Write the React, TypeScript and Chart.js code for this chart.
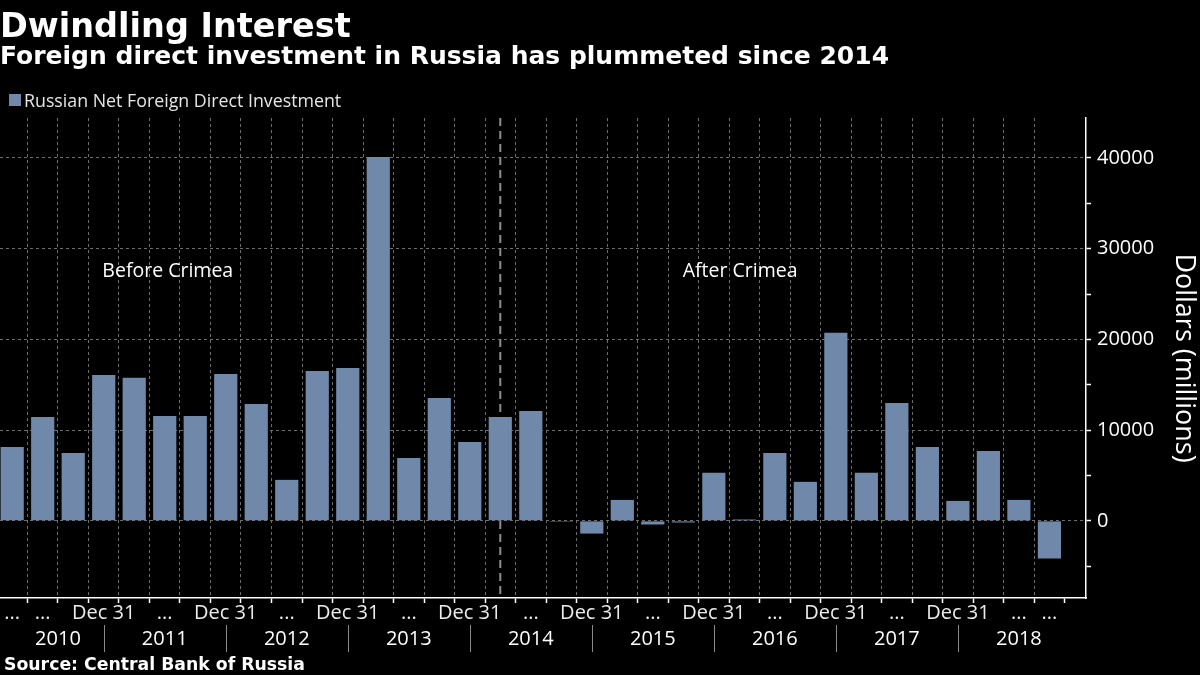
import React, { useEffect, useRef } from 'react';
import { Chart, registerables } from 'chart.js';

Chart.register(...registerables);

// Quarter-end dates (the last one has no data yet, but sits on the axis)
const quarters = [
  '2010-03-31', '2010-06-30', '2010-09-30', '2010-12-31',
  '2011-03-31', '2011-06-30', '2011-09-30', '2011-12-31',
  '2012-03-31', '2012-06-30', '2012-09-30', '2012-12-31',
  '2013-03-31', '2013-06-30', '2013-09-30', '2013-12-31',
  '2014-03-31', '2014-06-30', '2014-09-30', '2014-12-31',
  '2015-03-31', '2015-06-30', '2015-09-30', '2015-12-31',
  '2016-03-31', '2016-06-30', '2016-09-30', '2016-12-31',
  '2017-03-31', '2017-06-30', '2017-09-30', '2017-12-31',
  '2018-03-31', '2018-06-30', '2018-09-30', '2018-12-31',
];

// Russian Net Foreign Direct Investment, USD millions
const fdi = [
  8150, 11460, 7490, 16090,
  15760, 11570, 11570, 16200,
  12890, 4520, 16530, 16860,
  40110, 6940, 13550, 8700,
  11460, 12120, -100, -1400,
  2310, -400, -180, 5290,
  150, 7490, 4300, 20720,
  5290, 13000, 8150, 2200,
  7710, 2310, -4150,
];

const tickLabels = [
  '...', '...', '', 'Dec 31', '', '...', '', 'Dec 31',
  '', '...', '', 'Dec 31', '', '...', '', 'Dec 31',
  '', '...', '', 'Dec 31', '', '...', '', 'Dec 31',
  '', '...', '', 'Dec 31', '', '...', '', 'Dec 31',
  '', '...', '...', '',
];

const yearLabels = ['2010', '2011', '2012', '2013', '2014', '2015', '2016', '2017', '2018'];

const yTicks = [-5000, 0, 5000, 10000, 15000, 20000, 25000, 30000, 35000, 40000];
const yMajorStep = 10000;

const crimeaQuarter = '2014-03-31';

const annotations = [
  { text: 'Before Crimea', x: 5.1, y: 27500 },
  { text: 'After Crimea', x: 23.86, y: 27500 },
];

const FONT = "'Open Sans', 'DejaVu Sans', sans-serif";
const BOLD_FONT = "'DejaVu Sans', 'Open Sans', sans-serif";
const BAR_COLOR = '#7089ab';
const GRID_COLOR = '#6e6e6e';

const overlayPlugin = {
  id: 'overlay',
  beforeDatasetsDraw(chart: any) {
    const { ctx, chartArea, scales } = chart;
    const x = scales.x;
    const px = x.getPixelForValue(quarters.indexOf(crimeaQuarter));
    ctx.save();
    ctx.strokeStyle = '#8e8e8e';
    ctx.lineWidth = 2;
    ctx.setLineDash([8, 5]);
    ctx.beginPath();
    ctx.moveTo(px, chartArea.top);
    ctx.lineTo(px, chartArea.bottom);
    ctx.stroke();
    ctx.restore();
  },
  afterDatasetsDraw(chart: any) {
    const { ctx, scales } = chart;
    ctx.save();
    ctx.fillStyle = '#ffffff';
    ctx.font = `19.5px ${FONT}`;
    ctx.textAlign = 'center';
    ctx.textBaseline = 'middle';
    annotations.forEach((a) => {
      ctx.fillText(a.text, scales.x.getPixelForValue(a.x), scales.y.getPixelForValue(a.y));
    });
    ctx.restore();
  },
  afterDraw(chart: any) {
    const { ctx, scales } = chart;
    const x = scales.x;
    const boundaries: number[] = [0];
    quarters.forEach((q, i) => {
      if (q.endsWith('12-31') && i !== quarters.length - 1) boundaries.push(i);
    });
    boundaries.push(quarters.length - 1);
    ctx.save();
    ctx.strokeStyle = '#8a8a8a';
    ctx.lineWidth = 1;
    for (let b = 1; b < boundaries.length - 1; b++) {
      const px = Math.round(x.getPixelForValue(boundaries[b])) + 0.5;
      ctx.beginPath();
      ctx.moveTo(px, 625);
      ctx.lineTo(px, 652);
      ctx.stroke();
    }
    ctx.fillStyle = '#ffffff';
    ctx.font = `20px ${FONT}`;
    ctx.textAlign = 'center';
    ctx.textBaseline = 'alphabetic';
    yearLabels.forEach((label, k) => {
      const a = x.getPixelForValue(boundaries[k]);
      const c = x.getPixelForValue(boundaries[k + 1]);
      ctx.fillText(label, (a + c) / 2, 645);
    });
    ctx.restore();
  },
};

function FdiChart() {
  const canvasRef = useRef<HTMLCanvasElement | null>(null);

  useEffect(() => {
    const canvas = canvasRef.current;
    if (!canvas) return;
    const chart = new Chart(canvas, {
      type: 'bar',
      data: {
        datasets: [
          {
            label: 'Russian Net Foreign Direct Investment',
            data: fdi.map((v, i) => ({ x: i, y: v })),
            backgroundColor: BAR_COLOR,
            borderWidth: 0,
            categoryPercentage: 1,
            barPercentage: 0.76,
          } as any,
        ],
      },
      options: {
        animation: false,
        responsive: false,
        devicePixelRatio: 1,
        layout: { padding: { top: 118, left: 0, right: 0, bottom: 0 } },
        plugins: {
          legend: { display: false },
          tooltip: { enabled: false },
        },
        scales: {
          x: {
            type: 'linear',
            min: -0.4,
            max: 35.2,
            offset: false,
            afterBuildTicks: (s: any) => {
              s.ticks = quarters.map((_, i) => ({ value: i }));
            },
            afterFit: (s: any) => {
              s.height = 77;
            },
            grid: {
              color: (c: any) => (c.index === quarters.length - 1 ? 'rgba(0,0,0,0)' : GRID_COLOR),
              lineWidth: 1,
              tickColor: '#ffffff',
              tickLength: 5,
              tickWidth: 1.5,
            },
            border: { display: true, color: '#ffffff', width: 1.5, dash: [3, 3] },
            ticks: {
              autoSkip: false,
              maxRotation: 0,
              minRotation: 0,
              padding: 0,
              color: '#ececec',
              font: { family: FONT, size: 20, lineHeight: 1 },
              callback: (_v: any, i: number) => tickLabels[i] ?? '',
            },
          },
          y: {
            position: 'right',
            min: -8500,
            max: 44400,
            afterBuildTicks: (s: any) => {
              s.ticks = yTicks.map((v) => ({ value: v }));
            },
            afterFit: (s: any) => {
              s.width = 114;
            },
            grid: {
              color: (c: any) =>
                c.tick && c.tick.value % yMajorStep === 0 ? GRID_COLOR : 'rgba(0,0,0,0)',
              lineWidth: 1,
              tickColor: '#ffffff',
              tickLength: 5,
              tickWidth: 1.5,
            },
            border: { display: true, color: '#ffffff', width: 1.5, dash: [3, 3] },
            ticks: {
              padding: 6,
              color: '#ffffff',
              font: { family: FONT, size: 20 },
              callback: (v: any) => (Number(v) % yMajorStep === 0 ? String(v) : ''),
            },
            title: {
              display: true,
              text: 'Dollars (millions)',
              color: '#ffffff',
              font: { family: FONT, size: 27 },
              padding: 0,
            },
          },
        },
      } as any,
      plugins: [overlayPlugin],
    });
    return () => chart.destroy();
  }, []);

  return <canvas ref={canvasRef} width={1200} height={675} style={{ position: 'absolute', left: 0, top: 0 }} />;
}

export default function App() {
  const text = (extra: React.CSSProperties): React.CSSProperties => ({
    position: 'absolute',
    whiteSpace: 'nowrap',
    color: '#ffffff',
    margin: 0,
    ...extra,
  });
  return (
    <div
      style={{
        position: 'fixed',
        left: 0,
        top: 0,
        width: 1200,
        height: 675,
        background: '#000000',
        overflow: 'hidden',
      }}
    >
      <FdiChart />
      <div style={text({ left: 0, top: 9, fontFamily: BOLD_FONT, fontWeight: 700, fontSize: 33.5, lineHeight: '33.5px' })}>
        Dwindling Interest
      </div>
      <div style={text({ left: 0, top: 43, fontFamily: BOLD_FONT, fontWeight: 700, fontSize: 25, lineHeight: '25px' })}>
        Foreign direct investment in Russia has plummeted since 2014
      </div>
      <div style={{ position: 'absolute', left: 9, top: 94, width: 12, height: 12, background: BAR_COLOR }} />
      <div style={text({ left: 24, top: 92, fontFamily: FONT, fontSize: 17.8, lineHeight: '17.8px', color: '#e6e6e6' })}>
        Russian Net Foreign Direct Investment
      </div>
      <div style={text({ left: 4, top: 656, fontFamily: BOLD_FONT, fontWeight: 700, fontSize: 17.3, lineHeight: '17.3px' })}>
        Source: Central Bank of Russia
      </div>
    </div>
  );
}
